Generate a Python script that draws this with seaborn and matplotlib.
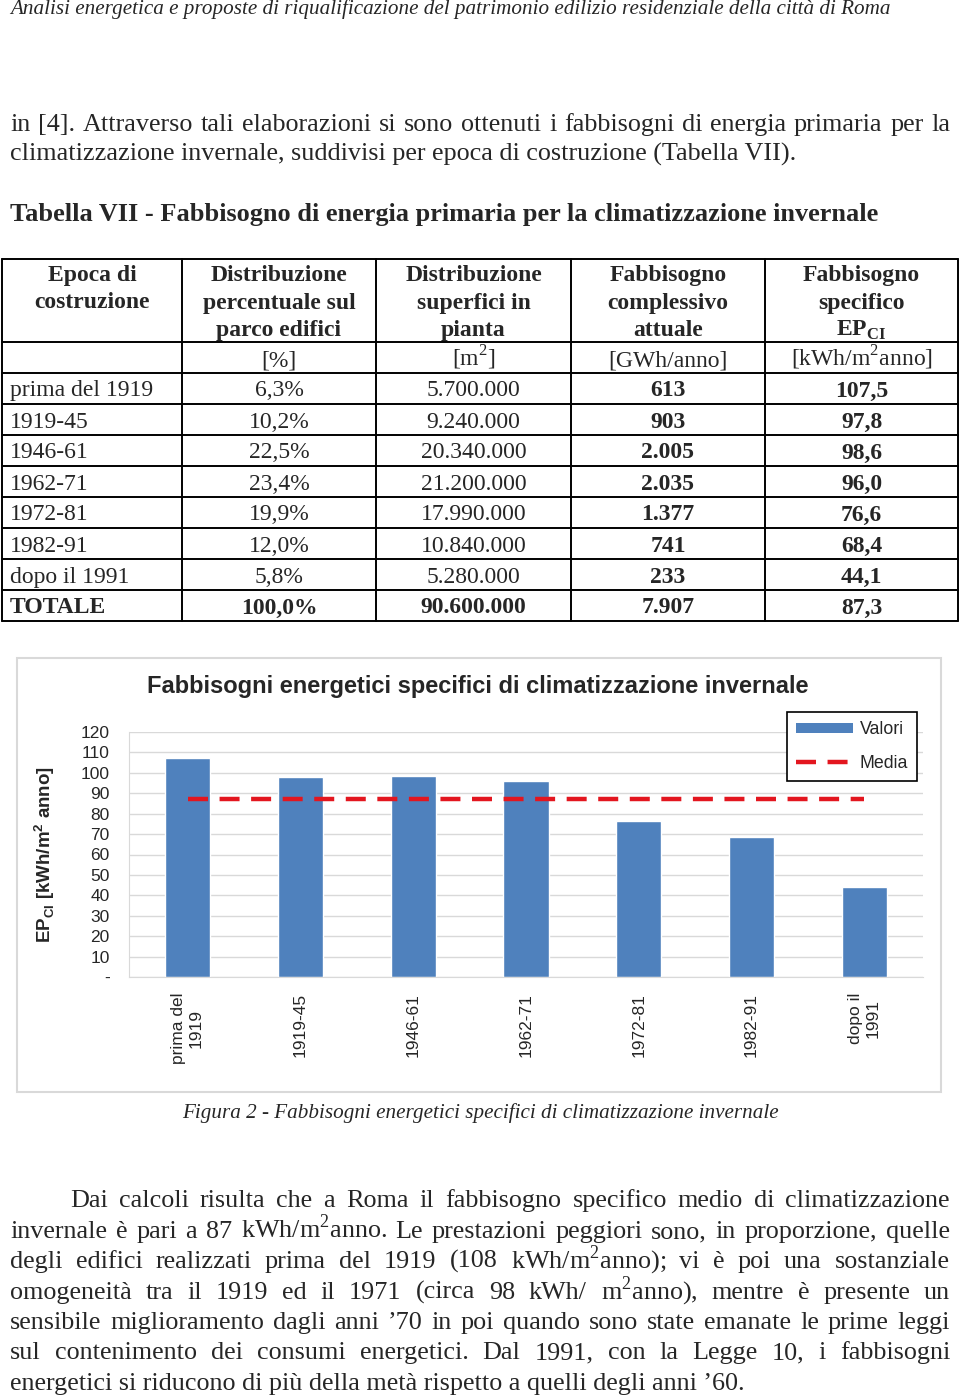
import numpy as np
import matplotlib
matplotlib.use("Agg")
import matplotlib.pyplot as plt
from matplotlib.lines import Line2D
from matplotlib.patches import Patch, Rectangle
from matplotlib.ticker import FuncFormatter
import seaborn as sns

# ======================= DATI =========================
epoche = ["prima del 1919", "1919-45", "1946-61", "1962-71", "1972-81", "1982-91", "dopo il 1991"]
epoche_grafico = ["prima del\n1919", "1919-45", "1946-61", "1962-71", "1972-81", "1982-91", "dopo il\n1991"]
distribuzione_perc = ["6,3%", "10,2%", "22,5%", "23,4%", "19,9%", "12,0%", "5,8%"]
superfici = ["5.700.000", "9.240.000", "20.340.000", "21.200.000", "17.990.000", "10.840.000", "5.280.000"]
fabbisogno_tot = ["613", "903", "2.005", "2.035", "1.377", "741", "233"]
ep_ci = [107.5, 97.8, 98.6, 96.0, 76.6, 68.4, 44.1]
riga_totale = ["TOTALE", "100,0%", "90.600.000", "7.907", "87,3"]
media = 87.3

intestazioni = [
    ["Epoca di", "costruzione"],
    ["Distribuzione", "percentuale sul", "parco edifici"],
    ["Distribuzione", "superfici in", "pianta"],
    ["Fabbisogno", "complessivo", "attuale"],
    ["Fabbisogno", "specifico", r"EP$_{\mathregular{CI}}$"],
]
unita = ["", "[%]", r"[m$^{\mathregular{2}}$]", "[GWh/anno]", r"[kWh/m$^{\mathregular{2}}$anno]"]

intestazione_pagina = "Analisi energetica e proposte di riqualificazione del patrimonio edilizio residenziale della città di Roma"
paragrafo_1 = [
    "in [4]. Attraverso tali elaborazioni si sono ottenuti i fabbisogni di energia primaria per la",
    "climatizzazione invernale, suddivisi per epoca di costruzione (Tabella VII).",
]
titolo_tabella = "Tabella VII - Fabbisogno di energia primaria per la climatizzazione invernale"
titolo_grafico = "Fabbisogni energetici specifici di climatizzazione invernale"
didascalia = "Figura 2 - Fabbisogni energetici specifici di climatizzazione invernale"
paragrafo_2 = [
    "Dai calcoli risulta che a Roma il fabbisogno specifico medio di climatizzazione",
    r"invernale è pari a 87 kWh/m$^{\mathregular{2}}$anno. Le prestazioni peggiori sono, in proporzione, quelle",
    r"degli edifici realizzati prima del 1919 (108 kWh/m$^{\mathregular{2}}$anno); vi è poi una sostanziale",
    r"omogeneità tra il 1919 ed il 1971 (circa 98 kWh/ m$^{\mathregular{2}}$anno), mentre è presente un",
    "sensibile miglioramento dagli anni ’70 in poi quando sono state emanate le prime leggi",
    "sul contenimento dei consumi energetici. Dal 1991, con la Legge 10, i fabbisogni",
    "energetici si riducono di più della metà rispetto a quelli degli anni ’60.",
]

# ======================= PAGINA =========================
SERIF = "Liberation Serif"
SANS = "Liberation Sans"
BLU = "#4f81bd"
ROSSO = "#e3161f"
GRIGIO = "#d9d9d9"
TESTO = 18.8  # corpo del testo

sns.set_style("white")
plt.rcParams["font.family"] = [SERIF, "DejaVu Sans"]

W, H = 960, 1400
fig = plt.figure(figsize=(W / 100, H / 100), dpi=100)
renderer = fig.canvas.get_renderer()


def scrivi(x, y, s, size=17, **kw):
    kw.setdefault("family", SERIF)
    kw.setdefault("va", "baseline")
    return fig.text(x / W, 1 - y / H, s, fontsize=size, **kw)


def riga_giustificata(s, y, x0=10, x1=950, size=TESTO):
    parole = [scrivi(0, y, p, size) for p in s.split()]
    larghezze = [t.get_window_extent(renderer).width for t in parole]
    spazio = (x1 - x0 - sum(larghezze)) / (len(parole) - 1)
    x = x0
    for t, w in zip(parole, larghezze):
        t.set_x(x / W)
        x += w + spazio


def linea(xs, ys, **kw):
    fig.add_artist(Line2D([x / W for x in xs], [1 - y / H for y in ys],
                          transform=fig.transFigure, **kw))


scrivi(10, 14, intestazione_pagina, 15.2, style="italic")

riga_giustificata(paragrafo_1[0], 131)
scrivi(10, 161, paragrafo_1[1], TESTO)

scrivi(10, 221, titolo_tabella, 18.9, weight="bold")

# ======================= TABELLA =========================
col_x = [2, 182, 376, 571, 765, 958]
righe_y = [259, 342, 373, 404, 435, 466, 497, 528, 559, 590, 621]
for y in righe_y:
    linea([col_x[0], col_x[-1]], [y, y], color="black", lw=1.4)
for x in col_x:
    linea([x, x], [righe_y[0], righe_y[-1]], color="black", lw=1.4)

centri = [(a + b) / 2 for a, b in zip(col_x[:-1], col_x[1:])]
for c, righe in zip(centri, intestazioni):
    for k, r in enumerate(righe):
        scrivi(c, 281 + 27.5 * k, r, weight="bold", ha="center")
for c, u in zip(centri, unita):
    scrivi(c, 366, u, ha="center")

for i in range(len(epoche)):
    y = (righe_y[i + 2] + righe_y[i + 3]) / 2 + 8
    scrivi(10, y, epoche[i])
    scrivi(centri[1], y, distribuzione_perc[i], ha="center")
    scrivi(centri[2], y, superfici[i], ha="center")
    scrivi(centri[3], y, fabbisogno_tot[i], ha="center", weight="bold")
    scrivi(centri[4], y, f"{ep_ci[i]:.1f}".replace(".", ","), ha="center", weight="bold")

y_tot = (righe_y[-2] + righe_y[-1]) / 2 + 8
scrivi(10, y_tot, riga_totale[0], weight="bold")
for c, v in zip(centri[1:], riga_totale[1:]):
    scrivi(c, y_tot, v, ha="center", weight="bold")

# ======================= GRAFICO =========================
fig.add_artist(Rectangle((17 / W, 1 - 1092 / H), 924 / W, 434 / H, transform=fig.transFigure,
                         fill=False, edgecolor=GRIGIO, lw=1.5))
scrivi(478, 686, titolo_grafico, 17, family=SANS, weight="bold", ha="center", va="center")

ax = fig.add_axes([129 / W, 1 - 977 / H, 794 / W, 245 / H])
sns.barplot(x=epoche_grafico, y=ep_ci, color=BLU, saturation=1, width=0.4, ax=ax)
ax.plot(ax.get_xticks(), np.full(len(epoche_grafico), media), color=ROSSO, lw=3.2,
        dashes=(4.5, 2.6))

ax.set_ylim(0, 120)
ax.set_yticks(np.arange(0, 121, 10))
ax.yaxis.set_major_formatter(FuncFormatter(lambda v, p: "-" if v == 0 else f"{v:.0f}"))
ax.yaxis.grid(True, color=GRIGIO, lw=1)
ax.set_axisbelow(True)
for s in ["top", "right"]:
    ax.spines[s].set_visible(False)
for s in ["left", "bottom"]:
    ax.spines[s].set_color(GRIGIO)
ax.tick_params(axis="y", length=0, pad=14, labelsize=12.5)
ax.tick_params(axis="x", length=0, pad=11.5, labelsize=12.5, rotation=90)
for t in ax.get_xticklabels() + ax.get_yticklabels():
    t.set_family(SANS)
ax.set_xlabel("")
ax.set_ylabel(r"EP$_{\mathregular{CI}}$ [kWh/m$^{\mathregular{2}}$ anno]", family=SANS,
              weight="bold", fontsize=13.5, labelpad=17)

maniglie = [Patch(facecolor=BLU, edgecolor="none"),
            Line2D([], [], color=ROSSO, lw=3.2, dashes=(4.5, 2.6))]
leg = ax.legend(maniglie, ["Valori", "Media"], loc="upper right",
                bbox_to_anchor=(917 / W, 1 - 712 / H), bbox_transform=fig.transFigure,
                borderaxespad=0, fancybox=False, framealpha=1, edgecolor="black",
                handlelength=3.2, handleheight=0.5, handletextpad=0.4, borderpad=0.5,
                labelspacing=0.95, prop={"family": SANS, "size": 12.8})
leg.get_frame().set_linewidth(1.2)

scrivi(480, 1118, didascalia, 15.2, style="italic", ha="center")

# ======================= TESTO =========================
righe_base = [1207, 1238, 1268, 1299, 1329, 1359, 1390]
riga_giustificata(paragrafo_2[0], righe_base[0], x0=70)
for s, y in zip(paragrafo_2[1:-1], righe_base[1:-1]):
    riga_giustificata(s, y)
scrivi(10, righe_base[-1], paragrafo_2[-1], TESTO)

fig.savefig("out.png", dpi=100, facecolor="white")
